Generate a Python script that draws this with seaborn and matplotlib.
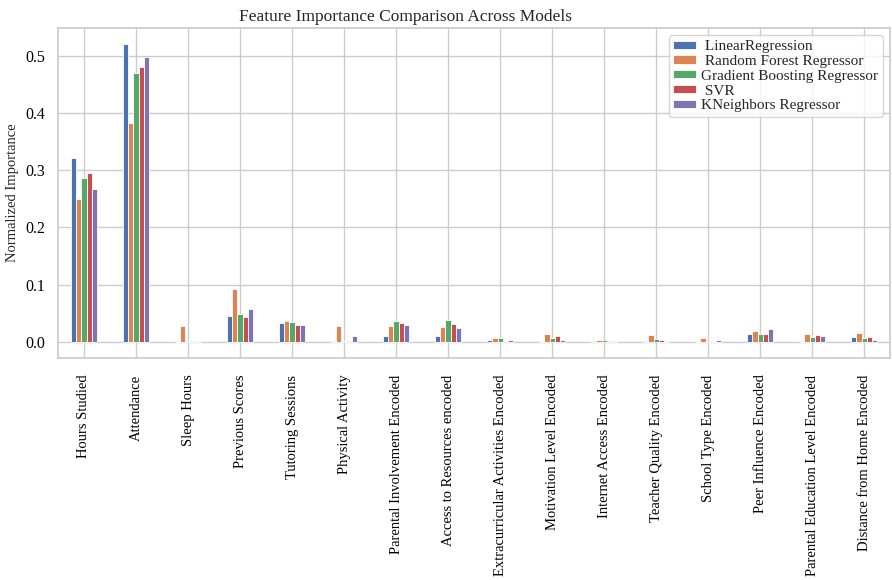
import pandas as pd
import seaborn as sns
import matplotlib.pyplot as plt

features = ['Hours Studied', 'Attendance', 'Sleep Hours', 'Previous Scores',
            'Tutoring Sessions', 'Physical Activity', 'Parental Involvement Encoded',
            'Access to Resources encoded', 'Extracurricular Activities Encoded',
            'Motivation Level Encoded', 'Internet Access Encoded', 'Teacher Quality Encoded',
            'School Type Encoded', 'Peer Influence Encoded',
            'Parental Education Level Encoded', 'Distance from Home Encoded']

models = [' LinearRegression', ' Random Forest Regressor', 'Gradient Boosting Regressor',
          ' SVR', 'KNeighbors Regressor']

linear = [0.322, 0.521, 0.000, 0.045, 0.033, 0.001, 0.010, 0.010,
          0.003, 0.000, 0.002, 0.001, 0.000, 0.014, 0.000, 0.009]
forest = [0.250, 0.383, 0.027, 0.093, 0.037, 0.028, 0.027, 0.026,
          0.007, 0.013, 0.003, 0.012, 0.006, 0.019, 0.014, 0.015]
boosting = [0.287, 0.470, 0.000, 0.048, 0.034, 0.002, 0.036, 0.038,
            0.006, 0.007, 0.003, 0.005, 0.000, 0.013, 0.008, 0.006]
svr = [0.296, 0.481, 0.000, 0.043, 0.030, 0.001, 0.033, 0.032,
       0.002, 0.010, 0.002, 0.004, 0.000, 0.014, 0.012, 0.009]
kneighbors = [0.268, 0.498, 0.000, 0.057, 0.030, 0.010, 0.030, 0.024,
              0.003, 0.003, 0.002, 0.001, 0.003, 0.023, 0.010, 0.003]

# montar tabela longa para o seaborn
df = pd.DataFrame({'Feature': features, models[0]: linear, models[1]: forest,
                   models[2]: boosting, models[3]: svr, models[4]: kneighbors})
long_df = df.melt(id_vars='Feature', var_name='Model', value_name='Importance')

sns.set_theme(style='whitegrid')
plt.rcParams['font.family'] = ['Liberation Serif', 'DejaVu Serif']

fig = plt.figure(figsize=(8.92, 5.8), dpi=100)
ax = fig.add_axes([0.065, 0.383, 0.933, 0.569])
sns.barplot(data=long_df, x='Feature', y='Importance', hue='Model',
            palette='deep', saturation=1, width=0.5, edgecolor='white',
            linewidth=0.6, ax=ax)

ax.set_xlim(-0.5, len(features) - 0.5)
ax.set_ylim(-0.028, 0.549)
ax.grid(True, axis='both')
ax.set_title('Feature Importance Comparison Across Models', fontsize=12.5, pad=5, x=0.417)
ax.set_xlabel('')
ax.set_ylabel('Normalized Importance', fontsize=10.5)
ax.tick_params(axis='x', labelrotation=90, labelsize=10.5, colors='black', pad=6)
ax.tick_params(axis='y', labelsize=11.5, colors='black')
ax.set_yticks([0.0, 0.1, 0.2, 0.3, 0.4, 0.5])
ax.legend(loc='upper right', fontsize=11, handlelength=1.5, handleheight=0.45,
          labelspacing=0.12, handletextpad=0.3, borderpad=0.3, frameon=True)

fig.savefig('out.png', dpi=100)
